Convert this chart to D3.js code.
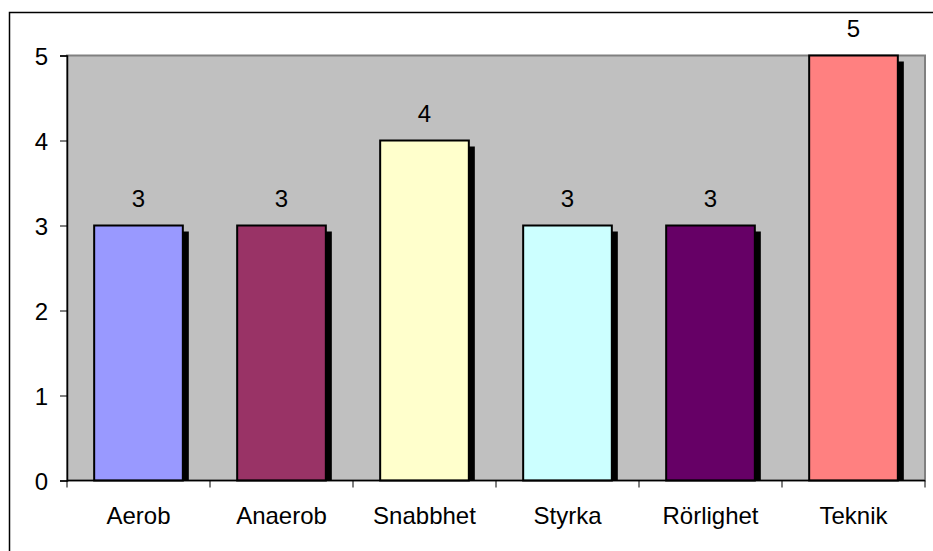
<!DOCTYPE html>
<html>
  <head>
    <meta http-equiv="Content-Type" content="text/html;charset=utf-8" />
    <title>Bar chart</title>
    <style>
      body {
        margin: 0;
        background: #fff;
        font-family: "Liberation Sans", Arial, sans-serif;
      }
      .label {
        font-size: 24px;
        fill: #000;
      }
    </style>
    <script src="https://d3js.org/d3.v7.min.js"></script>
  </head>
  <body>
    <div id="chart"></div>
    <script type="text/javascript">
      const categories = ["Aerob", "Anaerob", "Snabbhet", "Styrka", "Rörlighet", "Teknik"];
      const values = [3, 3, 4, 3, 3, 5];
      const barColors = ["#9999FF", "#993366", "#FFFFCC", "#CCFFFF", "#660066", "#FF8080"];
      const yTicks = [0, 1, 2, 3, 4, 5];

      const width = 933,
        height = 551;
      const plot = { left: 67, right: 925, top: 55.5, bottom: 480.5 };

      const svg = d3
        .select("#chart")
        .append("svg")
        .attr("width", width)
        .attr("height", height);

      // outer chart border (runs off the right and bottom edge)
      svg
        .append("rect")
        .attr("x", 9.5)
        .attr("y", 12.5)
        .attr("width", 1000)
        .attr("height", 1000)
        .style("fill", "none")
        .style("stroke", "#000")
        .style("stroke-width", 1.5);

      const x = d3.scaleBand().domain(categories).range([plot.left, plot.right]).padding(0);
      const y = d3.scaleLinear().domain([0, 5]).range([plot.bottom, plot.top]);

      // plot area
      svg
        .append("rect")
        .attr("x", plot.left)
        .attr("y", plot.top)
        .attr("width", plot.right - plot.left)
        .attr("height", plot.bottom - plot.top)
        .style("fill", "#C0C0C0")
        .style("stroke", "#808080")
        .style("stroke-width", 2);

      const barW = x.bandwidth() * 0.62,
        barOff = (x.bandwidth() - barW) / 2,
        shadow = 6;

      const data = categories.map((c, i) => ({ cat: c, value: values[i], color: barColors[i] }));

      // shadows
      svg
        .selectAll("rect.shadow")
        .data(data)
        .enter()
        .append("rect")
        .attr("class", "shadow")
        .attr("x", (d) => x(d.cat) + barOff + shadow)
        .attr("y", (d) => y(d.value) + shadow)
        .attr("width", barW)
        .attr("height", (d) => y(0) - y(d.value) - shadow)
        .style("fill", "#000");

      svg
        .selectAll("rect.bar")
        .data(data)
        .enter()
        .append("rect")
        .attr("class", "bar")
        .attr("x", (d) => x(d.cat) + barOff)
        .attr("y", (d) => y(d.value))
        .attr("width", barW)
        .attr("height", (d) => y(0) - y(d.value))
        .style("fill", (d) => d.color)
        .style("stroke", "#000")
        .style("stroke-width", 2);

      // value labels
      svg
        .selectAll("text.value")
        .data(data)
        .enter()
        .append("text")
        .attr("class", "label value")
        .attr("x", (d) => x(d.cat) + x.bandwidth() / 2)
        .attr("y", (d) => y(d.value) - 19)
        .attr("text-anchor", "middle")
        .text((d) => d.value);

      // y axis
      const yAxis = svg
        .append("g")
        .attr("transform", "translate(" + plot.left + ",0)")
        .call(d3.axisLeft(y).tickValues(yTicks).tickSize(7).tickPadding(12).tickFormat(d3.format("d")));
      yAxis.select(".domain").attr("stroke", "#000").attr("stroke-width", 1.5);
      yAxis.selectAll(".tick line").attr("stroke", "#000");
      yAxis
        .selectAll(".tick text")
        .attr("class", "label")
        .style("font-family", "'Liberation Sans', Arial, sans-serif")
        .style("font-size", "24px")
        .attr("dy", "0.36em");

      // x axis with ticks between categories
      const xAxis = svg.append("g").attr("transform", "translate(0," + plot.bottom + ")");
      xAxis
        .append("line")
        .attr("x1", plot.left)
        .attr("x2", plot.right)
        .attr("stroke", "#000")
        .attr("stroke-width", 1.5);
      const bounds = categories.map((c) => x(c)).concat([plot.right]);
      xAxis
        .selectAll("line.tick")
        .data(bounds)
        .enter()
        .append("line")
        .attr("class", "tick")
        .attr("x1", (d) => d)
        .attr("x2", (d) => d)
        .attr("y1", 0)
        .attr("y2", 7)
        .attr("stroke", "#000");
      xAxis
        .selectAll("text")
        .data(categories)
        .enter()
        .append("text")
        .attr("class", "label")
        .attr("x", (d) => x(d) + x.bandwidth() / 2)
        .attr("y", 43)
        .attr("text-anchor", "middle")
        .text((d) => d);
    </script>
  </body>
</html>
